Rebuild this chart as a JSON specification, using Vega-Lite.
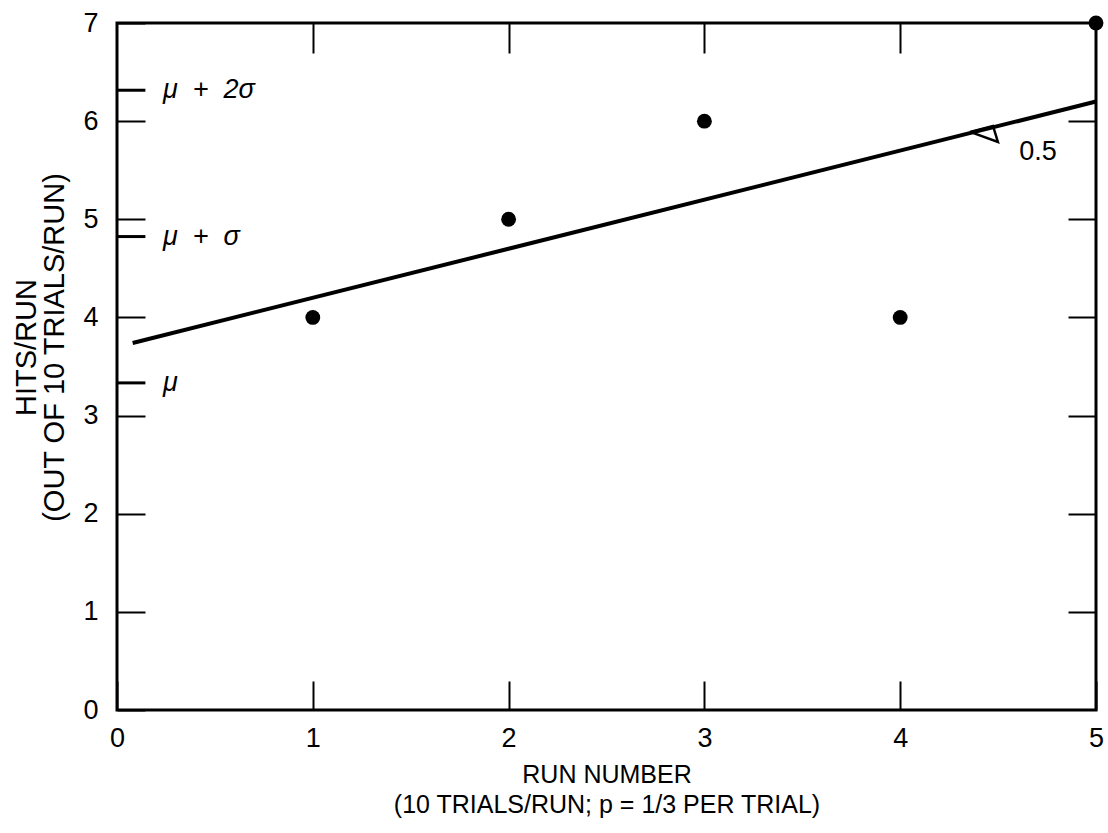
{
  "$schema": "https://vega.github.io/schema/vega-lite/v6.json",
  "autosize": "none",
  "width": 979,
  "height": 687,
  "padding": {"left": 117, "top": 23, "right": 12, "bottom": 123},
  "background": "white",
  "config": {
    "view": {"stroke": "black", "strokeWidth": 3},
    "font": "Liberation Sans",
    "axis": {
      "grid": false,
      "domain": false,
      "tickColor": "black",
      "tickWidth": 2,
      "labelFont": "Liberation Sans",
      "labelFontSize": 27,
      "labelColor": "black",
      "titleFont": "Liberation Sans",
      "titleFontWeight": "normal",
      "titleColor": "black"
    }
  },
  "datasets": {
    "points": [
      {"run": 1, "hits": 4},
      {"run": 2, "hits": 5},
      {"run": 3, "hits": 6},
      {"run": 4, "hits": 4},
      {"run": 5, "hits": 7}
    ],
    "fit": [
      {"run": 0.08, "hits": 3.74},
      {"run": 5, "hits": 6.2}
    ],
    "bands": [
      {"label": "μ\u00a0\u00a0+\u00a0\u00a02σ", "hits": 6.315},
      {"label": "μ\u00a0\u00a0+\u00a0\u00a0σ", "hits": 4.824},
      {"label": "μ", "hits": 3.333}
    ],
    "angle": [
      {"order": 1, "run": 4.357, "hits": 5.89},
      {"order": 2, "run": 4.474, "hits": 5.951},
      {"order": 3, "run": 4.499, "hits": 5.788},
      {"order": 4, "run": 4.357, "hits": 5.89}
    ],
    "slope": [{"label": "0.5"}]
  },
  "layer": [
    {
      "data": {"name": "points"},
      "mark": {"type": "point", "filled": true, "color": "black", "size": 220, "opacity": 1},
      "encoding": {
        "x": {
          "field": "run", "type": "quantitative",
          "scale": {"domain": [0, 5], "nice": false, "zero": false},
          "axis": {
            "orient": "bottom", "values": [0, 1, 2, 3, 4, 5], "tickSize": -29,
            "labelPadding": 44, "labelFlush": false,
            "title": ["RUN NUMBER", "(10 TRIALS/RUN; p = 1/3 PER TRIAL)"],
            "titleFontSize": 25, "titleLineHeight": 30,
            "titlePadding": 11
          }
        },
        "y": {
          "field": "hits", "type": "quantitative",
          "scale": {"domain": [0, 7], "nice": false, "zero": false},
          "axis": {
            "orient": "left", "values": [0, 1, 2, 3, 4, 5, 6, 7], "tickSize": -28,
            "labelPadding": 47, "labelFlush": false,
            "title": ["HITS/RUN", "(OUT OF 10 TRIALS/RUN)"],
            "titleFontSize": 29, "titleLineHeight": 28,
            "titlePadding": 13, "titleY": 324
          }
        }
      }
    },
    {
      "data": {"name": "fit"},
      "mark": {"type": "line", "color": "black", "strokeWidth": 4},
      "encoding": {
        "x": {
          "field": "run", "type": "quantitative",
          "axis": {"orient": "top", "values": [1, 2, 3, 4], "tickSize": -30, "labels": false, "title": null}
        },
        "y": {
          "field": "hits", "type": "quantitative",
          "axis": {"orient": "right", "values": [1, 2, 3, 4, 5, 6], "tickSize": -28, "labels": false, "title": null}
        }
      }
    },
    {
      "data": {"name": "bands"},
      "mark": {"type": "rule", "color": "black", "strokeWidth": 3},
      "encoding": {
        "x": {"datum": 0, "type": "quantitative", "axis": null},
        "x2": {"datum": 0.145},
        "y": {"field": "hits", "type": "quantitative", "axis": null}
      }
    },
    {
      "data": {"name": "bands"},
      "mark": {"type": "text", "align": "left", "baseline": "middle", "fontSize": 27, "fontStyle": "italic", "color": "black", "font": "Liberation Sans"},
      "encoding": {
        "x": {"datum": 0.235, "type": "quantitative", "axis": null},
        "y": {"field": "hits", "type": "quantitative", "axis": null},
        "text": {"field": "label"}
      }
    },
    {
      "data": {"name": "angle"},
      "mark": {"type": "line", "color": "black", "strokeWidth": 2.5},
      "encoding": {
        "x": {"field": "run", "type": "quantitative", "axis": null},
        "y": {"field": "hits", "type": "quantitative", "axis": null},
        "order": {"field": "order"}
      }
    },
    {
      "data": {"name": "slope"},
      "mark": {"type": "text", "align": "center", "baseline": "middle", "fontSize": 27, "color": "black", "font": "Liberation Sans"},
      "encoding": {
        "x": {"datum": 4.704, "type": "quantitative", "axis": null},
        "y": {"datum": 5.686, "type": "quantitative", "axis": null},
        "text": {"field": "label"}
      }
    }
  ],
  "resolve": {"axis": {"x": "independent", "y": "independent"}}
}
